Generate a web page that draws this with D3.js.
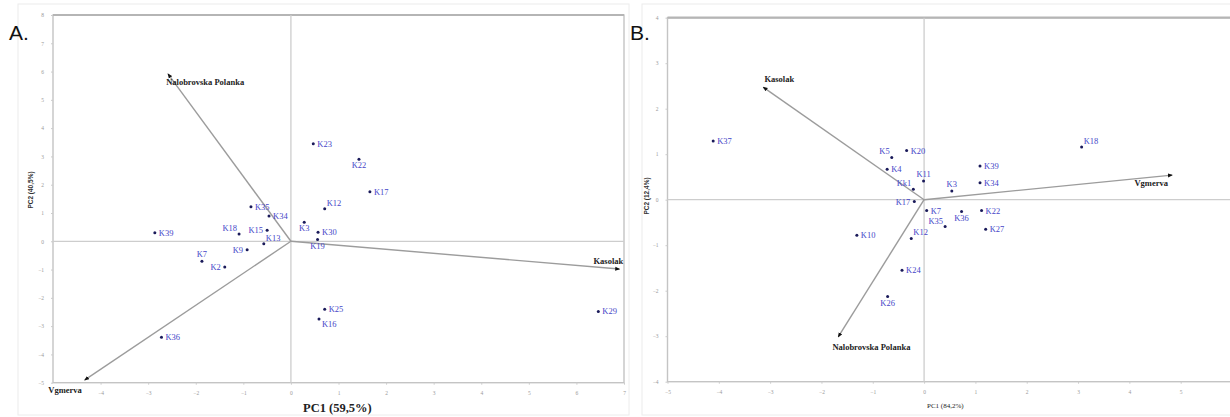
<!DOCTYPE html>
<html><head><meta charset="utf-8">
<script src="https://cdn.jsdelivr.net/npm/d3@7"></script>
<style>html,body{margin:0;padding:0;background:#fff;}svg{display:block;}</style>
</head><body>
<svg id="chart" width="1230" height="417"></svg>
<script>
// ---------- DATA ----------
// Panel A
const namesA = ["K35","K34","K18","K15","K13","K9","K7","K2","K3","K30","K19","K12","K17","K22","K23","K39","K36","K25","K16","K29"];
const pc1A   = [-0.84,-0.46,-1.09,-0.50,-0.57,-0.92,-1.87,-1.39,0.28,0.57,0.56,0.71,1.66,1.43,0.47,-2.86,-2.72,0.71,0.59,6.46];
const pc2A   = [1.22,0.89,0.26,0.39,-0.09,-0.30,-0.71,-0.91,0.67,0.32,0.06,1.15,1.75,2.90,3.45,0.30,-3.39,-2.40,-2.75,-2.48];
const varNamesA = ["Nalobrovska Polanka","Kasolak","Vgmerva"];
const varPc1A   = [-2.58, 6.90, -4.33];
const varPc2A   = [5.91, -0.98, -4.90];
const xTicksA = [-4,-3,-2,-1,0,1,2,3,4,5,6,7];
const yTicksA = [-5,-4,-3,-2,-1,0,1,2,3,4,5,6,7,8];
const xTitleA = "PC1 (59,5%)";
const yTitleA = "PC2 (40,5%)";

// Panel B
const namesB = ["K20","K5","K4","K11","Kk1","K3","K39","K34","K17","K7","K35","K36","K22","K27","K12","K10","K37","K18","K24","K26"];
const pc1B   = [-0.34,-0.63,-0.72,-0.01,-0.21,0.54,1.09,1.09,-0.19,0.05,0.41,0.73,1.12,1.20,-0.25,-1.31,-4.11,3.07,-0.43,-0.71];
const pc2B   = [1.08,0.93,0.67,0.41,0.23,0.19,0.74,0.37,-0.04,-0.24,-0.59,-0.26,-0.24,-0.65,-0.85,-0.78,1.29,1.16,-1.55,-2.13];
const varNamesB = ["Kasolak","Vgmerva","Nalobrovska Polanka"];
const varPc1B   = [-3.13, 4.83, -1.67];
const varPc2B   = [2.47, 0.54, -3.01];
const xTicksB = [-5,-4,-3,-2,-1,0,1,2,3,4,5];
const yTicksB = [-4,-3,-2,-1,0,1,2,3,4];
const xTitleB = "PC1 (84,2%)";
const yTitleB = "PC2 (12,4%)";

// ---------- DRAWING ----------
const svg = d3.select("#chart");
const defs = svg.append("defs");
defs.append("marker").attr("id","arr").attr("viewBox","0 0 10 10")
  .attr("refX",8).attr("refY",5).attr("markerWidth",5).attr("markerHeight",5)
  .attr("orient","auto").attr("markerUnits","userSpaceOnUse")
  .append("path").attr("d","M0,1 L10,5 L0,9 Z").attr("fill","#111");

const placeOff = {
  r:[4,3,"start"], l:[-4,3,"end"], t:[0,-4,"middle"], b:[0,9,"middle"],
  tr:[2,-3,"start"], tl:[-2,-3,"end"], br:[3,8,"start"]
};
const placeA = {K35:"r",K34:"r",K18:"tl",K15:"l",K13:"tr",K9:"l",K7:"t",K2:"l",K3:"b",K30:"r",K19:"b",K12:"tr",K17:"r",K22:"b",K23:"r",K39:"r",K36:"r",K25:"r",K16:"br",K29:"r"};
const placeB = {K20:"r",K5:"tl",K4:"r",K11:"t",Kk1:"tl",K3:"t",K39:"r",K34:"r",K17:"l",K7:"r",K35:"tl",K36:"b",K22:"r",K27:"r",K12:"tr",K10:"r",K37:"r",K18:"tr",K24:"r",K26:"b"};

function panel(cfg){
  const g = svg.append("g");
  const x = d3.scaleLinear().domain(cfg.xDom).range(cfg.xRange);
  const y = d3.scaleLinear().domain(cfg.yDom).range(cfg.yRange);
  const clipId = "clip"+cfg.id;
  defs.append("clipPath").attr("id",clipId).append("rect")
    .attr("x",cfg.xRange[0]-60).attr("y",0).attr("width",cfg.xRange[1]-cfg.xRange[0]+120).attr("height",417);
  const gg = g.append("g").attr("clip-path","url(#"+clipId+")");

  gg.append("rect").attr("x",cfg.outer[0]).attr("y",cfg.outer[1]).attr("width",cfg.outer[2]).attr("height",cfg.outer[3])
    .attr("fill","none").attr("stroke","#ececec").attr("stroke-width",1);

  const x0 = x.range()[0], x1 = x.range()[1], y0 = y.range()[1], y1 = y.range()[0];
  gg.append("rect").attr("x",x0).attr("y",y0).attr("width",x1-x0).attr("height",y1-y0)
    .attr("fill","#fff").attr("stroke","#c4c4c4").attr("stroke-width",1.4);
  gg.append("line").attr("x1",x0).attr("x2",x1).attr("y1",y0).attr("y2",y0)
    .attr("stroke","#b5b5b5").attr("stroke-width",2.2);

  gg.append("line").attr("x1",x(0)).attr("x2",x(0)).attr("y1",y0).attr("y2",y1).attr("stroke","#cdcdcd").attr("stroke-width",1.3);
  gg.append("line").attr("x1",x0).attr("x2",x1).attr("y1",y(0)).attr("y2",y(0)).attr("stroke","#cdcdcd").attr("stroke-width",1.3);

  const xa = gg.append("g").attr("transform","translate(0,"+y1+")")
    .call(d3.axisBottom(x).tickValues(cfg.xTicks).tickSize(2).tickPadding(6).tickFormat(d3.format("d")));
  const ya = gg.append("g").attr("transform","translate("+x0+",0)")
    .call(d3.axisLeft(y).tickValues(cfg.yTicks).tickSize(2).tickPadding(7).tickFormat(d3.format("d")));
  [xa,ya].forEach(a=>{
    a.select(".domain").remove();
    a.selectAll(".tick line").attr("stroke","#ccc");
    a.selectAll(".tick text").attr("fill","#9a9a9a").attr("font-size",5.5).attr("font-family","Liberation Serif, serif");
  });

  const vars = cfg.varNames.map((n,i)=>({n, vx:cfg.varPc1[i], vy:cfg.varPc2[i], p:cfg.varPlace[i]}));
  gg.selectAll(".arrow").data(vars).enter().append("line")
    .attr("x1",x(0)).attr("y1",y(0)).attr("x2",d=>x(d.vx)).attr("y2",d=>y(d.vy))
    .attr("stroke","#9c9c9c").attr("stroke-width",1.4).attr("marker-end","url(#arr)");
  gg.selectAll(".vlab").data(vars).enter().append("text")
    .attr("x",d=>x(d.vx)+d.p[0]).attr("y",d=>y(d.vy)+d.p[1]).attr("text-anchor",d=>d.p[2])
    .attr("font-family","Liberation Serif, serif").attr("font-size",8.5).attr("font-weight","bold").attr("fill","#222")
    .text(d=>d.n);

  const pts = cfg.names.map((n,i)=>({n, vx:cfg.pc1[i], vy:cfg.pc2[i]}));
  gg.selectAll(".pt").data(pts).enter().append("circle")
    .attr("cx",d=>x(d.vx)).attr("cy",d=>y(d.vy)).attr("r",1.5).attr("fill","#1a1a5a");
  gg.selectAll(".plab").data(pts).enter().append("text")
    .attr("x",d=>x(d.vx)+placeOff[cfg.place[d.n]][0])
    .attr("y",d=>y(d.vy)+placeOff[cfg.place[d.n]][1])
    .attr("text-anchor",d=>placeOff[cfg.place[d.n]][2])
    .attr("font-family","Liberation Serif, serif").attr("font-size",8.5).attr("fill","#4646c8")
    .text(d=>d.n);

  g.append("text").attr("x",cfg.xTitlePos[0]).attr("y",cfg.xTitlePos[1])
    .attr("font-family","Liberation Serif, serif").attr("font-size",cfg.xTitleSize).attr("font-weight",cfg.xTitleWeight)
    .attr("fill","#222").text(cfg.xTitle);
  g.append("text").attr("transform","translate("+cfg.yTitlePos[0]+","+cfg.yTitlePos[1]+") rotate(-90)")
    .attr("text-anchor","middle").attr("font-family","Liberation Sans, Arial, sans-serif").attr("font-size",6.5)
    .attr("font-weight","bold").attr("fill","#333").text(cfg.yTitle);
  g.append("text").attr("x",cfg.letterPos[0]).attr("y",cfg.letterPos[1])
    .attr("font-family","Liberation Sans, Arial, sans-serif").attr("font-size",21).attr("fill","#111").text(cfg.letter);
}

panel({id:"A", xDom:[-5,7], xRange:[53,624], yDom:[-5,8], yRange:[382.7,15],
  xTicks:xTicksA, yTicks:yTicksA, names:namesA, pc1:pc1A, pc2:pc2A, place:placeA,
  varNames:varNamesA, varPc1:varPc1A, varPc2:varPc2A,
  varPlace:[[-2,11,"start"],[4,-5,"end"],[-3,13,"end"]],
  outer:[18,4,611,411],
  xTitle:xTitleA, xTitlePos:[303,412], xTitleSize:12.5, xTitleWeight:"bold",
  yTitle:yTitleA, yTitlePos:[33,190], letter:"A.", letterPos:[9,40]});

panel({id:"B", xDom:[-5,6], xRange:[667.5,1232], yDom:[-4,4], yRange:[381.7,17.7],
  xTicks:xTicksB, yTicks:yTicksB, names:namesB, pc1:pc1B, pc2:pc2B, place:placeB,
  varNames:varNamesB, varPc1:varPc1B, varPc2:varPc2B,
  varPlace:[[1,-5,"start"],[-4,11,"end"],[-6,13,"start"]],
  outer:[642,4,600,411],
  xTitle:xTitleB, xTitlePos:[927,408], xTitleSize:7, xTitleWeight:"normal",
  yTitle:yTitleB, yTitlePos:[649,196], letter:"B.", letterPos:[630,40]});
</script>
</body></html>
